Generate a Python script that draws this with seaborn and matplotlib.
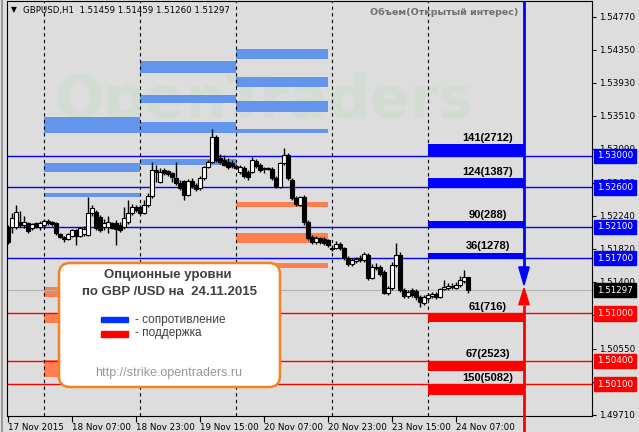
import numpy as np
import pandas as pd
import matplotlib
matplotlib.use("Agg")
import matplotlib.pyplot as plt
from matplotlib.patches import FancyBboxPatch, Rectangle, Polygon
import seaborn as sns

# --- GBPUSD H1 candles (17 Nov 15:00 .. 24 Nov 10:00) ---
opens = [1.5210, 1.5210, 1.5210, 1.5216, 1.5212, 1.5215, 1.5208, 1.5215, 1.5210, 1.5212,
         1.5217, 1.5216, 1.5215, 1.5201, 1.5197, 1.5195, 1.5198, 1.5206, 1.5198, 1.5201,
         1.5200, 1.5227, 1.5229, 1.5222, 1.5210, 1.5210, 1.5215, 1.5215, 1.5212, 1.5210,
         1.5216, 1.5227, 1.5235, 1.5235, 1.5227, 1.5238, 1.5249, 1.5282, 1.5267, 1.5282,
         1.5281, 1.5278, 1.5272, 1.5266, 1.5268, 1.5250, 1.5268, 1.5263, 1.5259, 1.5272,
         1.5286, 1.5292, 1.5324, 1.5297, 1.5295, 1.5292, 1.5291, 1.5287, 1.5280, 1.5285,
         1.5280, 1.5280, 1.5293, 1.5288, 1.5285, 1.5285, 1.5283, 1.5272, 1.5261, 1.5291,
         1.5301, 1.5269, 1.5247, 1.5238, 1.5248, 1.5216, 1.5197, 1.5191, 1.5196, 1.5195,
         1.5193, 1.5183, 1.5183, 1.5188, 1.5183, 1.5170, 1.5163, 1.5167, 1.5170, 1.5168,
         1.5174, 1.5145, 1.5159, 1.5159, 1.5153, 1.5126, 1.5132, 1.5161, 1.5174, 1.5130,
         1.5122, 1.5130, 1.5128, 1.5121, 1.5113, 1.5120, 1.5122, 1.5125, 1.5121, 1.5131,
         1.5132, 1.5135, 1.5132, 1.5136, 1.5141, 1.51459]
closes = [1.5191, 1.5221, 1.5229, 1.5212, 1.5216, 1.5205, 1.5214, 1.5210, 1.5215, 1.5217,
          1.5215, 1.5214, 1.5202, 1.5197, 1.5195, 1.5201, 1.5206, 1.5198, 1.5208, 1.5207,
          1.5227, 1.5234, 1.5208, 1.5206, 1.5215, 1.5216, 1.5208, 1.5207, 1.5206, 1.5221,
          1.5227, 1.5235, 1.5231, 1.5227, 1.5238, 1.5249, 1.5282, 1.5280, 1.5280, 1.5278,
          1.5277, 1.5273, 1.5266, 1.5259, 1.5250, 1.5268, 1.5262, 1.5258, 1.5272, 1.5286,
          1.5292, 1.5324, 1.5295, 1.5292, 1.5288, 1.5286, 1.5287, 1.5285, 1.5286, 1.5274,
          1.5273, 1.5295, 1.5287, 1.5282, 1.5283, 1.5283, 1.5272, 1.5261, 1.5291, 1.5301,
          1.5272, 1.5247, 1.5239, 1.5248, 1.5216, 1.5196, 1.5191, 1.5196, 1.5191, 1.5189,
          1.5187, 1.5182, 1.5188, 1.5183, 1.5170, 1.5163, 1.5168, 1.5169, 1.5168, 1.5175,
          1.5145, 1.5159, 1.5158, 1.5150, 1.5126, 1.5132, 1.5161, 1.5174, 1.5130, 1.5122,
          1.5127, 1.5123, 1.5121, 1.5114, 1.5121, 1.5123, 1.5125, 1.5121, 1.5131, 1.5134,
          1.5135, 1.5134, 1.5136, 1.5142, 1.5146, 1.51297]
highs = [1.5212, 1.5227, 1.5238, 1.5230, 1.5224, 1.5216, 1.5215, 1.5216, 1.5217, 1.5220,
         1.5220, 1.5217, 1.5216, 1.5202, 1.5198, 1.5202, 1.5207, 1.5207, 1.5210, 1.5211,
         1.5248, 1.5238, 1.5231, 1.5225, 1.5220, 1.5224, 1.5216, 1.5219, 1.5216, 1.5235,
         1.5244, 1.5239, 1.5238, 1.5238, 1.5244, 1.5253, 1.5292, 1.5288, 1.5285, 1.5285,
         1.5282, 1.5280, 1.5292, 1.5269, 1.5269, 1.5271, 1.5272, 1.5266, 1.5274, 1.5287,
         1.5295, 1.5334, 1.5327, 1.5302, 1.5301, 1.5297, 1.5295, 1.5290, 1.5288, 1.5287,
         1.5282, 1.5299, 1.5296, 1.5291, 1.5286, 1.5286, 1.5286, 1.5274, 1.5292, 1.5310,
         1.5304, 1.5272, 1.5249, 1.5249, 1.5250, 1.5219, 1.5200, 1.5198, 1.5197, 1.5197,
         1.5195, 1.5187, 1.5192, 1.5191, 1.5184, 1.5173, 1.5170, 1.5172, 1.5174, 1.5178,
         1.5177, 1.5163, 1.5164, 1.5161, 1.5155, 1.5135, 1.5165, 1.5189, 1.5178, 1.5132,
         1.5130, 1.5132, 1.5131, 1.5123, 1.5123, 1.5126, 1.5127, 1.5127, 1.5132, 1.5142,
         1.5139, 1.5139, 1.5140, 1.5147, 1.5155, 1.51459]
lows = [1.5188, 1.5202, 1.5207, 1.5210, 1.5208, 1.5202, 1.5206, 1.5208, 1.5206, 1.5208,
        1.5212, 1.5211, 1.5200, 1.5196, 1.5191, 1.5193, 1.5197, 1.5187, 1.5197, 1.5198,
        1.5198, 1.5224, 1.5206, 1.5203, 1.5206, 1.5202, 1.5207, 1.5187, 1.5203, 1.5207,
        1.5214, 1.5225, 1.5229, 1.5226, 1.5226, 1.5235, 1.5247, 1.5267, 1.5266, 1.5276,
        1.5274, 1.5267, 1.5263, 1.5257, 1.5244, 1.5249, 1.5259, 1.5255, 1.5257, 1.5269,
        1.5285, 1.5291, 1.5292, 1.5290, 1.5287, 1.5283, 1.5285, 1.5283, 1.5277, 1.5272,
        1.5269, 1.5278, 1.5285, 1.5280, 1.5278, 1.5282, 1.5269, 1.5259, 1.5259, 1.5288,
        1.5269, 1.5244, 1.5236, 1.5236, 1.5212, 1.5193, 1.5188, 1.5188, 1.5188, 1.5187,
        1.5184, 1.5179, 1.5182, 1.5180, 1.5168, 1.5160, 1.5160, 1.5164, 1.5165, 1.5165,
        1.5142, 1.5144, 1.5155, 1.5147, 1.5125, 1.5123, 1.5130, 1.5159, 1.5127, 1.5120,
        1.5120, 1.5121, 1.5117, 1.5108, 1.5111, 1.5117, 1.5120, 1.5118, 1.5120, 1.5130,
        1.5130, 1.5131, 1.5131, 1.5134, 1.5139, 1.51260]

day_starts = [9, 33, 57, 81, 105]
time_ticks = [0, 16, 32, 48, 64, 80, 96, 112]
time_labels = ["17 Nov 2015", "18 Nov 07:00", "18 Nov 23:00", "19 Nov 15:00",
               "20 Nov 07:00", "20 Nov 23:00", "23 Nov 15:00", "24 Nov 07:00"]
price_ticks = [1.54770, 1.54350, 1.53930, 1.53510, 1.53090, 1.52660, 1.52240,
               1.51820, 1.51400, 1.50980, 1.50550, 1.50130, 1.49710]

# option levels for 24.11.2015
res_levels = [1.5300, 1.5260, 1.5210, 1.5170]
res_sizes = [0.0015, 0.0012, 0.0007, 0.0007]
res_labels = ["141(2712)", "124(1387)", "90(288)", "36(1278)"]
sup_levels = [1.5100, 1.5040, 1.5010]
sup_sizes = [0.0011, 0.0013, 0.0014]
sup_labels = ["61(716)", "67(2523)", "150(5082)"]

# levels of previous days: (first bar, last bar)
hist_cols = [(9, 33), (33, 57), (57, 80)]
hist_res = [[(1.5329, 1.5349), (1.5280, 1.5291), (1.5248, 1.5253)],
            [(1.5405, 1.5421), (1.5367, 1.5377), (1.5329, 1.5343), (1.5288, 1.5296)],
            [(1.5423, 1.5436), (1.5388, 1.5400), (1.5356, 1.5370), (1.5329, 1.5334)]]
hist_sup = [[(1.5121, 1.5134), (1.5088, 1.5100), (1.5019, 1.5041)],
            [],
            [(1.5235, 1.5241), (1.5189, 1.5202), (1.5158, 1.5164)]]

BG = "#DDDDDD"
sns.set_theme(style="white", rc={"axes.facecolor": BG, "figure.facecolor": BG})
plt.rcParams["font.family"] = ["DejaVu Sans"]

W, H = 639, 432
fig = plt.figure(figsize=(W / 100, H / 100), dpi=100)
ax = fig.add_axes([7 / W, 16 / H, 585 / W, 415 / H])
ax.set_xlim(-0.25, 146)
ax.set_ylim(1.49697, 1.54967)

# overlay in pixel coordinates
ov = fig.add_axes([0, 0, 1, 1], zorder=5)
ov.set_xlim(0, W)
ov.set_ylim(H, 0)
ov.axis("off")
ov.patch.set_alpha(0)

# watermark
ax.text(264, 118, "OpenTraders", transform=ov.transData, fontsize=42, fontweight="bold",
        color="#d2dcd2", ha="center", va="baseline", zorder=0.5)

df = pd.DataFrame({"open": opens, "high": highs, "low": lows, "close": closes})
df["i"] = np.arange(len(df))
up = df["close"] >= df["open"]
body = (df["close"] - df["open"]).abs().clip(lower=0.00004)

# history level bars
for (a, b), rs, ss in zip(hist_cols, hist_res, hist_sup):
    for lo, hi in rs:
        ax.bar(a, hi - lo, bottom=lo, width=b - a, align="edge", color="#6495ED",
               lw=0, edgecolor="none", zorder=1)
    for lo, hi in ss:
        ax.bar(a, hi - lo, bottom=lo, width=b - a, align="edge", color="#FF7F50",
               lw=0, edgecolor="none", zorder=1)

# current price line and day separators
ax.axhline(closes[-1], color="#B4B4B4", lw=0.8, zorder=1.5)
for d in day_starts:
    ax.axvline(d, color="black", lw=0.8, ls=(0, (3, 3)), zorder=1.6)

# today's option levels
for lvl, h, lab in zip(res_levels, res_sizes, res_labels):
    ax.axhline(lvl, color="#0000FF", lw=1, zorder=2)
    ax.bar(105, h, bottom=lvl, width=24, align="edge", color="#0000FF",
           lw=0, edgecolor="none", zorder=2)
    ax.annotate(lab, xy=(120, lvl + h), xytext=(0, 1), textcoords="offset points",
                ha="center", va="bottom", fontsize=8, fontweight="bold",
                family="Liberation Sans", color="black", zorder=7)
for lvl, h, lab in zip(sup_levels, sup_sizes, sup_labels):
    ax.axhline(lvl, color="#FF0000", lw=1, zorder=2)
    ax.bar(105, h, bottom=lvl - h, width=24, align="edge", color="#FF0000",
           lw=0, edgecolor="none", zorder=2)
    ax.annotate(lab, xy=(120, lvl), xytext=(0, 1), textcoords="offset points",
                ha="center", va="bottom", fontsize=8, fontweight="bold",
                family="Liberation Sans", color="black", zorder=7)

# candles
ax.vlines(df["i"], df["low"], df["high"], color="black", lw=1, zorder=4)
ax.bar(df["i"][up], body[up], bottom=df["open"][up], width=0.8, color="white",
       edgecolor="black", lw=0.8, zorder=5)
ax.bar(df["i"][~up], body[~up], bottom=df["close"][~up], width=0.8, color="black",
       edgecolor="black", lw=0.8, zorder=5)

# direction arrows
xa = 129
ax.vlines(xa, 1.5159, 1.5497, color="#0000FF", lw=2, zorder=6)
ax.add_patch(Polygon([(xa - 1.3, 1.5159), (xa + 1.3, 1.5159), (xa, 1.5136)],
                     closed=True, color="#0000FF", zorder=6))
ax.vlines(xa, 1.4949, 1.5111, color="#FF0000", lw=2, zorder=6, clip_on=False)
ax.add_patch(Polygon([(xa - 1.3, 1.5111), (xa + 1.3, 1.5111), (xa, 1.5132)],
                     closed=True, color="#FF0000", zorder=6))

# axes
for s in ax.spines.values():
    s.set_color("black")
    s.set_linewidth(0.8)
    s.set_visible(True)
ax.yaxis.tick_right()
ax.set_yticks(price_ticks)
ax.set_yticklabels([f"{p:.5f}" for p in price_ticks])
ax.set_xticks(time_ticks)
ax.set_xticklabels(time_labels)
for t in ax.get_xticklabels():
    t.set_ha("left")
ax.tick_params(axis="y", direction="out", length=3, width=0.8, colors="black",
               labelsize=6.3, pad=2, right=True, left=False)
ax.tick_params(axis="x", direction="out", length=4, width=0.8, colors="black",
               labelsize=6.3, pad=1, bottom=True)
ax.grid(False)


def price_tag(p, fc):
    ax.annotate(f"{p:.5f}", xy=(1, p), xycoords=("axes fraction", "data"),
                xytext=(3.6, 0), textcoords="offset points", ha="left", va="center",
                fontsize=6.3, color="white", annotation_clip=False, zorder=10,
                bbox=dict(boxstyle="square,pad=0.3", fc=fc, ec=fc))


for lvl in res_levels:
    price_tag(lvl, "#0000FF")
for lvl in sup_levels:
    price_tag(lvl, "#FF0000")
price_tag(closes[-1], "black")

# header texts
ov.plot([2, 2], [0, H], color="#8c8c8c", lw=1.2)
ov.text(11, 10, "\u25bc", fontsize=5.5, va="center", color="black")
ov.text(23, 10, f"GBPUSD,H1  {opens[-1]:.5f} {highs[-1]:.5f} {lows[-1]:.5f} {closes[-1]:.5f}",
        fontsize=6.2, va="center", color="black")
ov.text(518, 12, "Объем(Открытый интерес)", fontsize=6.8, fontweight="bold",
        color="#707070", ha="right", va="center")

# info box
ov.add_patch(FancyBboxPatch((59, 263), 221, 124, boxstyle="round,pad=0,rounding_size=11",
                            fc="white", ec="#F5821F", lw=1.8))
ov.text(168, 275, "Опционные уровни", fontsize=9.5, fontweight="bold",
        family="Liberation Sans", color="#404040", ha="center", va="center")
ov.text(170, 292, "по GBP /USD на  24.11.2015", fontsize=9.5, fontweight="bold",
        family="Liberation Sans", color="#404040", ha="center", va="center")
ov.add_patch(Rectangle((101, 317), 27, 5, color="#0033FF"))
ov.add_patch(Rectangle((101, 331), 27, 6, color="#FF0000"))
ov.text(135, 320, "- сопротивление", fontsize=8.5, family="Liberation Sans",
        color="#404040", ha="left", va="center")
ov.text(135, 333, "- поддержка", fontsize=8.5, family="Liberation Sans",
        color="#404040", ha="left", va="center")
ov.text(169, 373, "http://strike.opentraders.ru", fontsize=9, family="Liberation Sans",
        color="#999999", ha="center", va="center")

fig.savefig("out.png", dpi=100, facecolor=BG)
